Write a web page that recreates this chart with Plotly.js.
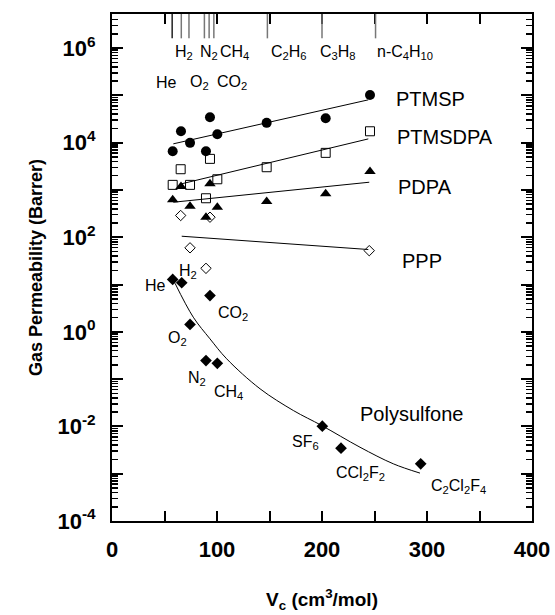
<!DOCTYPE html>
<html>
<head>
<meta charset="utf-8">
<script src="https://cdn.plot.ly/plotly-3.0.1.min.js"></script>
<style>html,body{margin:0;padding:0;background:#fff;}#chart{width:555px;height:615px;}</style>
</head>
<body>
<div id="chart"></div>
<script>
// ---- Data ----
// PTMSP (filled circles)
const ptmspVc = [57.8, 65.7, 74.3, 89.5, 93.3, 100.3, 147.3, 203.5, 245.7];
const ptmspP  = [6600, 17400, 9900, 6600, 34400, 15100, 26200, 32800, 102000];
const ptmspFitVc = [58.4, 244.1];
const ptmspFitP  = [9440, 80400];

// PTMSDPA (open squares)
const ptmsdpaVc = [57.8, 65.4, 74.3, 89.5, 93.3, 100.3, 147.3, 203.5, 245.7];
const ptmsdpaP  = [1280, 2740, 1280, 667, 4540, 1680, 3020, 6080, 17400];
const ptmsdpaFitVc = [66.4, 244.1];
const ptmsdpaFitP  = [1350, 12000];

// PDPA (filled triangles)
const pdpaVc = [57.8, 65.7, 74.3, 89.5, 93.3, 100.3, 147.3, 203.5, 245.7];
const pdpaP  = [618, 1180, 452, 265, 1350, 431, 569, 828, 2450];
const pdpaFitVc = [58.4, 245.0];
const pdpaFitP  = [550, 1455];

// PPP (open diamonds)
const pppVc = [65.4, 74.3, 89.5, 93.3, 245.0];
const pppP  = [288, 59.7, 22, 265, 52];
const pppFitVc = [66.4, 244.1];
const pppFitP  = [105, 55];

// Polysulfone (filled diamonds)
const psfVc = [57.8, 66.4, 74.3, 89.5, 93.3, 100.3, 200.3, 218.1, 294.0];
const psfP  = [12.8, 10.9, 1.43, 0.247, 5.85, 0.216, 0.0101, 0.00346, 0.00162];
// Polysulfone trend curve
const psfCurveVc = [60.0, 77.4, 93.3, 109.2, 141.0, 172.7, 199.7, 236.2, 267.9, 293.3];
const psfCurveP  = [10.65, 2.04, 0.711, 0.269, 0.0624, 0.0217, 0.01045, 0.00363, 0.00162, 0.00103];

// Critical volumes of the gases marked along the top axis
const gasNames = ['He', 'H<sub>2</sub>', 'O<sub>2</sub>', 'N<sub>2</sub>', 'CO<sub>2</sub>', 'CH<sub>4</sub>', 'C<sub>2</sub>H<sub>6</sub>', 'C<sub>3</sub>H<sub>8</sub>', 'n-C<sub>4</sub>H<sub>10</sub>'];
const gasVc = [57.3, 66.0, 73.3, 88.0, 92.5, 97.0, 148.0, 200.0, 251.0];

// Axis ticks
const xTickVals = [0, 100, 200, 300, 400];
const xTickText = ['0', '100', '200', '300', '400'];
const xHalfTickVals = [50, 150, 250, 350];
const yTickVals = [1e-4, 1e-2, 1e0, 1e2, 1e4, 1e6];
const yTickText = ['10<sup>-4</sup>', '10<sup>-2</sup>', '10<sup>0</sup>', '10<sup>2</sup>', '10<sup>4</sup>', '10<sup>6</sup>'];
const yOddDecades = [1e-3, 1e-1, 1e1, 1e3, 1e5];

// ---- Build ----
const minorY = [];
for (let e = -4; e <= 6; e++) {
  for (let m = 2; m <= 9; m++) {
    const v = m * Math.pow(10, e);
    if (v < 5e6) minorY.push(v);
  }
}

const black = '#000';
const traces = [
  {x: ptmspFitVc, y: ptmspFitP, mode: 'lines', line: {color: black, width: 1}},
  {x: ptmsdpaFitVc, y: ptmsdpaFitP, mode: 'lines', line: {color: black, width: 1}},
  {x: pdpaFitVc, y: pdpaFitP, mode: 'lines', line: {color: black, width: 1}},
  {x: pppFitVc, y: pppFitP, mode: 'lines', line: {color: black, width: 1}},
  {x: psfCurveVc, y: psfCurveP, mode: 'lines', line: {color: black, width: 1, shape: 'spline'}},
  {x: ptmspVc, y: ptmspP, mode: 'markers', marker: {symbol: 'circle', size: 10, color: black}},
  {x: ptmsdpaVc, y: ptmsdpaP, mode: 'markers', marker: {symbol: 'square-open', size: 9, color: black, line: {width: 1}}},
  {x: pdpaVc, y: pdpaP, mode: 'markers', marker: {symbol: 'triangle-up', size: 10, color: black}},
  {x: pppVc, y: pppP, mode: 'markers', marker: {symbol: 'diamond-open', size: 8, color: black, line: {width: 1}}},
  {x: psfVc, y: psfP, mode: 'markers', marker: {symbol: 'diamond', size: 9, color: black}},
  // empty trace that only carries the secondary tick axes
  {x: [], y: [], xaxis: 'x2', yaxis: 'y2', mode: 'markers', hoverinfo: 'skip'}
];

const F = 'Liberation Sans, Arial, Helvetica, sans-serif';
const shapes = gasVc.map((v, i) => ({
  type: 'line', xref: 'x', yref: 'paper', x0: v, x1: v, y0: 1, y1: 0.952,
  line: {color: i === 0 ? '#222' : '#777', width: 1.5}
}));

function labP(text, x, ypx, size, anchor) {
  // ypx: pixel row inside the plot area (top = 14, bottom = 521)
  return {text: text, x: x, y: 1 - (ypx - 14) / 507, xref: 'x', yref: 'paper', showarrow: false,
    xanchor: anchor || 'left', yanchor: 'middle', font: {family: F, size: size, color: black}};
}

const gs = 16;
const ps = 20;
const annotations = [
  // top gas names
  labP(gasNames[1], 58.1, 53, gs),
  labP(gasNames[3], 81.9, 53, gs),
  labP(gasNames[5], 100.8, 53, gs),
  labP(gasNames[6], 149.5, 53, gs),
  labP(gasNames[7], 196.1, 53, gs),
  labP(gasNames[8], 250.4, 53, gs),
  labP(gasNames[0], 40.0, 82, gs),
  labP(gasNames[2], 72.3, 82, gs),
  labP(gasNames[4], 98.0, 82, gs),
  // polymer names
  labP('PTMSP', 268.5, 99, ps),
  labP('PTMSDPA', 269.5, 137, ps),
  labP('PDPA', 270.4, 187, ps),
  labP('PPP', 274.2, 261, ps),
  labP('Polysulfone', 234.2, 414, ps),
  // polysulfone gas names
  labP('He', 53.4, 285, gs, 'right'),
  labP('H<sub>2</sub>', 62.0, 271, gs),
  labP('CO<sub>2</sub>', 99.0, 313, gs),
  labP('O<sub>2</sub>', 51.4, 338, gs),
  labP('N<sub>2</sub>', 70.4, 378, gs),
  labP('CH<sub>4</sub>', 95.2, 392, gs),
  labP('SF<sub>6</sub>', 169.5, 442, gs),
  labP('CCl<sub>2</sub>F<sub>2</sub>', 211.4, 473, gs),
  labP('C<sub>2</sub>Cl<sub>2</sub>F<sub>4</sub>', 301.9, 486, gs)
];

const axLine = {showline: true, linecolor: black, linewidth: 2, mirror: 'ticks', showgrid: false, zeroline: false, fixedrange: true};

const layout = {
  width: 555, height: 615,
  margin: {l: 112, r: 23, t: 14, b: 94},
  paper_bgcolor: '#fff', plot_bgcolor: '#fff',
  showlegend: false,
  font: {family: F, color: black},
  xaxis: Object.assign({}, axLine, {
    range: [0, 400],
    ticks: 'inside', ticklen: 10, tickwidth: 2, tickcolor: black,
    tickmode: 'array', tickvals: xTickVals, ticktext: xTickText,
    ticklabelstandoff: 8,
    tickfont: {family: F, size: 22, weight: 'bold'},
    title: {text: 'V<sub>c</sub> (cm<sup>3</sup>/mol)', font: {family: F, size: 19, weight: 'bold'}, standoff: 31},
    automargin: false
  }),
  yaxis: Object.assign({}, axLine, {
    type: 'log', range: [-4, 6.72],
    ticks: 'inside', ticklen: 11, tickwidth: 2, tickcolor: black,
    tickmode: 'array', tickvals: yTickVals, ticktext: yTickText,
    ticklabelstandoff: 10,
    tickfont: {family: F, size: 22, weight: 'bold'},
    minor: {tickmode: 'array', tickvals: minorY, ticks: 'inside', ticklen: 6, tickwidth: 1.5, tickcolor: black, showgrid: false},
    title: {text: 'Gas Permeability (Barrer)', font: {family: F, size: 18, weight: 'bold'}, standoff: 10},
    automargin: false
  }),
  xaxis2: Object.assign({}, axLine, {
    overlaying: 'x', anchor: 'y2', side: 'bottom', range: [0, 400],
    ticks: 'inside', ticklen: 10, tickwidth: 2, tickcolor: black,
    tickmode: 'array', tickvals: xHalfTickVals, showticklabels: false
  }),
  yaxis2: Object.assign({}, axLine, {
    overlaying: 'y', anchor: 'x2', side: 'left', type: 'log', range: [-4, 6.72],
    ticks: 'inside', ticklen: 11, tickwidth: 2, tickcolor: black,
    tickmode: 'array', tickvals: yOddDecades, showticklabels: false
  }),
  shapes: shapes,
  annotations: annotations
};

Plotly.newPlot('chart', traces, layout, {staticPlot: true, displayModeBar: false});
</script>
</body>
</html>
